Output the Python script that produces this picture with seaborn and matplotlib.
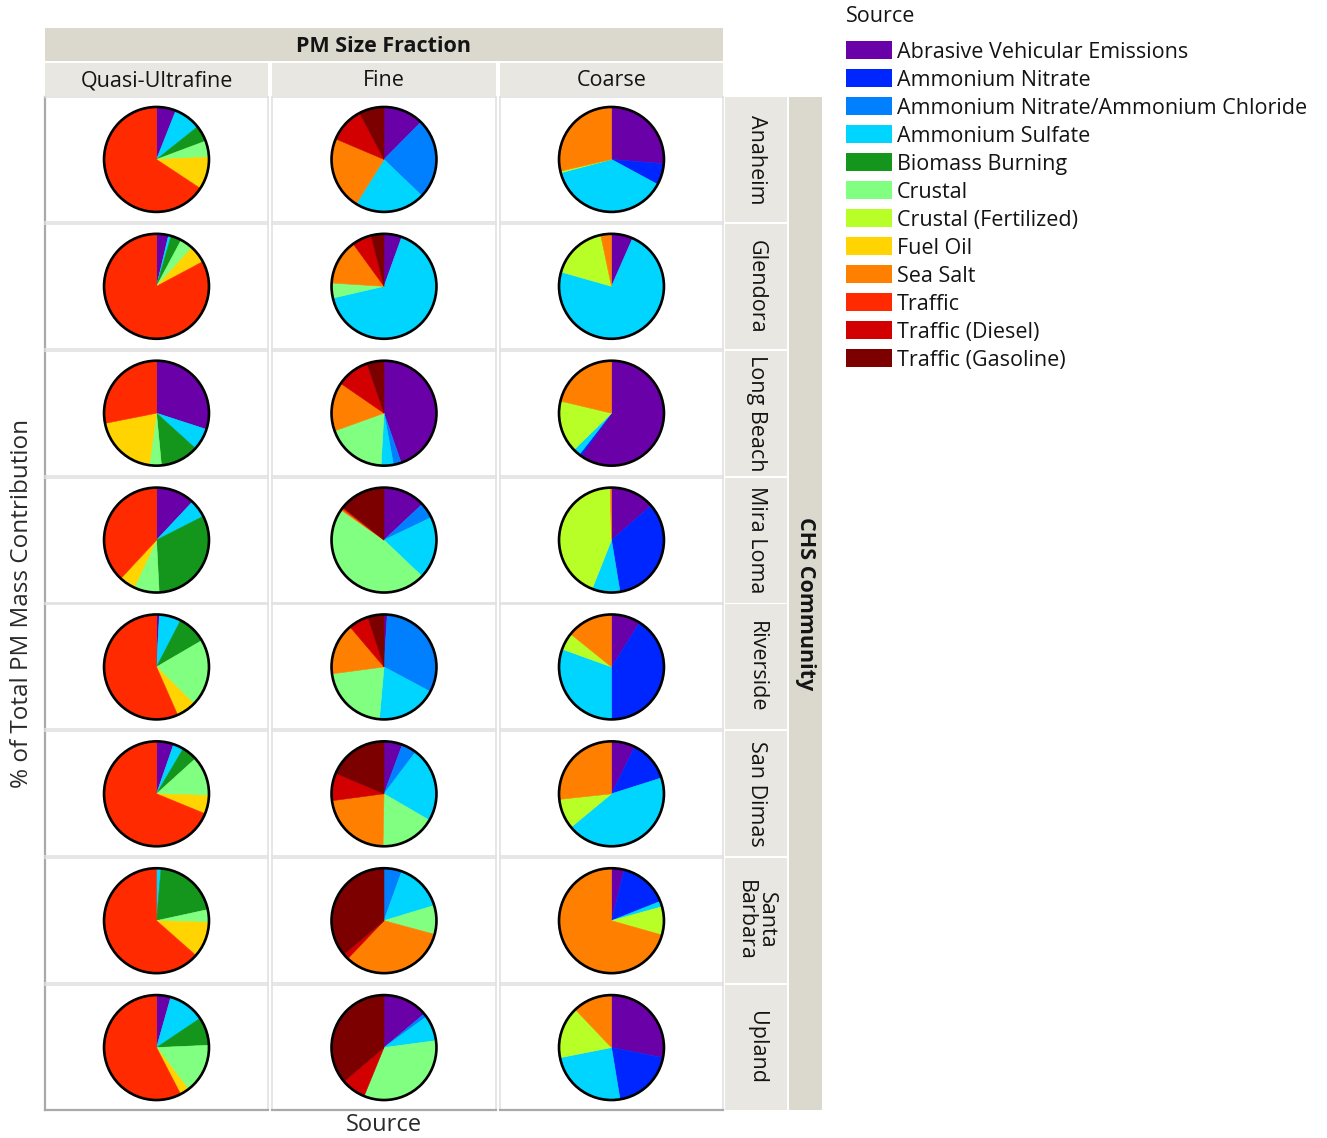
import numpy as np
import pandas as pd
import seaborn as sns
import matplotlib.pyplot as plt
from matplotlib.patches import Rectangle, Circle, Patch

# Source categories (legend order, also clockwise wedge order from 12 o'clock)
sources = [
    "Abrasive Vehicular Emissions", "Ammonium Nitrate",
    "Ammonium Nitrate/Ammonium Chloride", "Ammonium Sulfate",
    "Biomass Burning", "Crustal", "Crustal (Fertilized)", "Fuel Oil",
    "Sea Salt", "Traffic", "Traffic (Diesel)", "Traffic (Gasoline)",
]
source_colors = [
    "#6a00a8", "#0026ff", "#0080ff", "#00d5ff", "#13961b", "#80ff80",
    "#b8ff28", "#ffd400", "#ff8000", "#ff2a00", "#d20000", "#7d0000",
]

communities = ["Anaheim", "Glendora", "Long Beach", "Mira Loma",
               "Riverside", "San Dimas", "Santa Barbara", "Upland"]
community_labels = ["Anaheim", "Glendora", "Long Beach", "Mira Loma",
                    "Riverside", "San Dimas", "Santa\nBarbara", "Upland"]
fractions = ["Quasi-Ultrafine", "Fine", "Coarse"]

# % of total PM mass, one row per community, columns follow `sources`
quasi_ultrafine = [
    [6.0, 0, 0, 8.3, 5.0, 5.0, 0, 10.0, 0, 65.7, 0, 0],
    [3.7, 0, 0, 0.8, 3.3, 4.0, 0, 5.4, 0, 82.8, 0, 0],
    [30.0, 0, 0, 6.7, 11.8, 3.7, 0, 19.7, 0, 28.1, 0, 0],
    [12.0, 0, 0, 5.5, 31.7, 7.8, 0, 4.9, 0, 38.1, 0, 0],
    [0.9, 0, 0, 6.7, 9.0, 20.8, 0, 6.0, 0, 56.6, 0, 0],
    [5.3, 0, 0, 3.2, 4.8, 12.2, 0, 5.7, 0, 68.8, 0, 0],
    [0, 0, 0, 1.4, 20.2, 3.9, 0, 11.0, 0, 63.5, 0, 0],
    [4.4, 0, 0, 11.2, 8.7, 15.3, 0, 2.8, 0, 57.6, 0, 0],
]
fine = [
    [12.4, 0, 24.8, 21.7, 0, 0, 0, 0, 22.5, 0, 10.9, 7.7],
    [5.5, 0, 0, 65.9, 0, 4.6, 0, 0, 14.0, 0, 6.0, 4.0],
    [44.7, 0, 2.4, 3.8, 0, 18.6, 0, 0, 15.1, 0, 10.1, 5.3],
    [13.0, 0, 4.9, 19.2, 0, 47.6, 0, 0, 0.4, 0.5, 0, 14.4],
    [1.0, 0, 31.8, 18.6, 0, 21.5, 0, 0, 15.9, 0, 6.2, 5.0],
    [5.7, 0, 4.6, 23.1, 0, 16.9, 0, 0, 22.6, 0, 8.5, 18.6],
    [0, 0, 5.5, 14.8, 0, 8.9, 0, 0, 32.9, 0, 1.8, 36.1],
    [13.9, 0, 1.1, 7.9, 0, 33.3, 0, 0, 0, 0, 7.6, 36.2],
]
coarse = [
    [26.3, 6.6, 0, 38.0, 0, 0, 0.5, 0, 28.6, 0, 0, 0],
    [6.6, 0, 0, 72.8, 0, 0, 17.3, 0, 3.3, 0, 0, 0],
    [59.8, 0.7, 0, 2.2, 0, 0, 16.0, 0, 21.3, 0, 0, 0],
    [13.6, 33.8, 0, 8.6, 0, 0, 43.6, 0, 0.4, 0, 0, 0],
    [9.0, 41.0, 0, 30.5, 0, 0, 5.3, 0, 14.2, 0, 0, 0],
    [7.3, 12.8, 0, 43.9, 0, 0, 9.3, 0, 26.7, 0, 0, 0],
    [3.9, 15.1, 0, 1.7, 0, 0, 8.7, 0, 70.6, 0, 0, 0],
    [28.1, 19.3, 0, 24.5, 0, 0, 16.0, 0, 12.1, 0, 0, 0],
]

# Long-form table for the facet grid
records = []
for frac, table in zip(fractions, [quasi_ultrafine, fine, coarse]):
    for comm, row in zip(communities, table):
        for src, val in zip(sources, row):
            records.append({"fraction": frac, "community": comm,
                            "source": src, "value": val})
df = pd.DataFrame(records)

sns.set_theme(style="white")
plt.rcParams["font.family"] = ["Open Sans", "DejaVu Sans"]

W, H = 1327, 1138
color_map = dict(zip(sources, source_colors))


def fx(px):
    return px / W


def fy(py):
    return 1 - py / H


def draw_pie(data, **kwargs):
    ax = plt.gca()
    data = data.set_index("source").reindex(sources)
    vals = data["value"].to_numpy()
    keep = vals > 0
    wedges, _ = ax.pie(vals[keep],
                       colors=[c for c, k in zip(source_colors, keep) if k],
                       startangle=90, counterclock=False,
                       wedgeprops=dict(linewidth=0.4))
    for w in wedges:
        w.set_edgecolor(w.get_facecolor())
    ax.add_patch(Circle((0, 0), 1.0, fill=False, ec="black", lw=1.9,
                        zorder=5))


g = sns.FacetGrid(df, row="community", col="fraction",
                  row_order=communities, col_order=fractions,
                  sharex=False, sharey=False, despine=False,
                  height=1.25, aspect=1.8)
g.map_dataframe(draw_pie)
fig = g.figure
fig.set_size_inches(W / 100, H / 100)
fig.subplots_adjust(left=fx(45), right=fx(723), top=fy(97), bottom=fy(1110),
                    wspace=0.02, hspace=0.016)

nrow, ncol = g.axes.shape
for i in range(nrow):
    for j in range(ncol):
        ax = g.axes[i, j]
        ax.set_title("")
        ax.set_xlabel("")
        ax.set_ylabel("")
        ax.set_frame_on(True)
        ax.set_xticks([])
        ax.set_yticks([])
        ax.set_ylim(-1.19, 1.19)
        ax.set_aspect("equal", adjustable="datalim")
        for sp in ax.spines.values():
            sp.set_visible(True)
            sp.set_color("#e1e1e1")
            sp.set_linewidth(1.2)
        if j == 0:
            ax.spines["left"].set_color("#a9a9a9")
            ax.spines["left"].set_linewidth(1.6)
        if i == nrow - 1:
            ax.spines["bottom"].set_color("#a9a9a9")
            ax.spines["bottom"].set_linewidth(1.6)

outer_strip = "#dbd9cd"
inner_strip = "#e9e7e1"
strip_font = 15.5
text_color = "#141414"

# Column strips
top_y = g.axes[0, 0].get_position().y1
sh = 33 / H
gap = 1.5 / H
x0_all = g.axes[0, 0].get_position().x0
x1_all = g.axes[0, -1].get_position().x1
for j, frac in enumerate(fractions):
    pos = g.axes[0, j].get_position()
    fig.add_artist(Rectangle((pos.x0, top_y + gap), pos.width, sh,
                             transform=fig.transFigure, color=inner_strip,
                             lw=0))
    fig.text((pos.x0 + pos.x1) / 2, top_y + gap + sh / 2 - 2 / H, frac,
             ha="center", va="center", fontsize=strip_font, color=text_color)
fig.add_artist(Rectangle((x0_all, top_y + 2 * gap + sh), x1_all - x0_all, sh,
                         transform=fig.transFigure, color=outer_strip, lw=0))
fig.text((x0_all + x1_all) / 2, top_y + 2 * gap + 1.5 * sh - 2 / H,
         "PM Size Fraction", ha="center", va="center", fontsize=strip_font,
         fontweight="bold", color=text_color)

# Row strips
right_x = g.axes[0, -1].get_position().x1
rw = 62 / W
rgap = 2 / W
ow = 33 / W
y_top = g.axes[0, -1].get_position().y1
y_bot = g.axes[-1, -1].get_position().y0
for i, lab in enumerate(community_labels):
    pos = g.axes[i, -1].get_position()
    fig.add_artist(Rectangle((right_x + rgap, pos.y0), rw, pos.height,
                             transform=fig.transFigure, color=inner_strip,
                             lw=0))
    fig.text(right_x + rgap + rw / 2, (pos.y0 + pos.y1) / 2, lab,
             ha="center", va="center", rotation=-90, fontsize=strip_font,
             multialignment="center", color=text_color, linespacing=1.0)
fig.add_artist(Rectangle((right_x + 2 * rgap + rw, y_bot), ow, y_top - y_bot,
                         transform=fig.transFigure, color=outer_strip, lw=0))
fig.text(right_x + 2 * rgap + rw + ow / 2, (y_top + y_bot) / 2,
         "CHS Community", ha="center", va="center", rotation=-90,
         fontsize=strip_font, fontweight="bold", color=text_color)

# Axis titles
fig.text(fx(22), (y_top + y_bot) / 2, "% of Total PM Mass Contribution",
         rotation=90, ha="center", va="center", fontsize=17.5,
         color="#2a2a2a")
fig.text((x0_all + x1_all) / 2, fy(1125), "Source", ha="center",
         va="center", fontsize=17, color="#2a2a2a")

# Legend
fig.text(fx(846), fy(17), "Source", ha="left", va="center", fontsize=15.5,
         color=text_color)
handles = [Patch(facecolor=color_map[s], edgecolor="none") for s in sources]
leg = fig.legend(handles, sources, loc="upper left",
                 bbox_to_anchor=(fx(846), fy(41)), frameon=False,
                 fontsize=15.5, handlelength=2.14, handleheight=0.93,
                 labelspacing=0.3, handletextpad=0.23,
                 borderaxespad=0, borderpad=0)
for t in leg.get_texts():
    t.set_color(text_color)

fig.savefig("out.png", dpi=100, facecolor="white")
